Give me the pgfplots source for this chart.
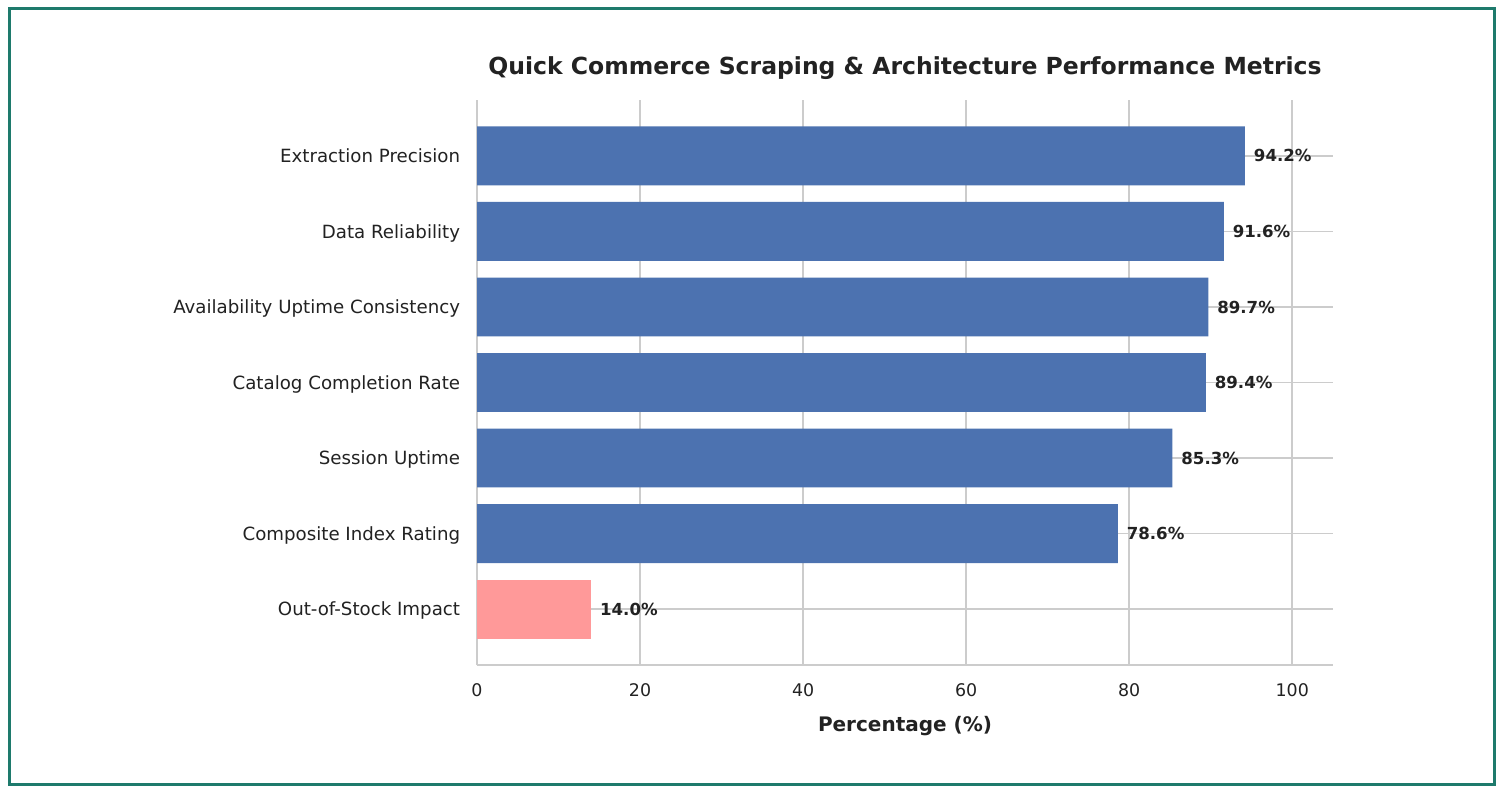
\documentclass[border=0pt]{standalone}
\usepackage{fontspec}
\setmainfont{DejaVu Sans}
\usepackage{pgfplots}
\pgfplotsset{compat=1.18}
\definecolor{barblue}{HTML}{4C72B0}
\definecolor{barpink}{HTML}{FF9999}
\definecolor{gridgray}{HTML}{CCCCCC}
\definecolor{frameteal}{RGB}{30,122,108}
\definecolor{txt}{HTML}{222222}
\begin{document}
\begin{tikzpicture}
\path[use as bounding box, fill=white] (0,0) rectangle (751.5pt,396.5pt);
\draw[frameteal, line width=1.5pt] (4.6pt,4.4pt) rectangle (747.1pt,392pt);
\begin{axis}[
  at={(238.5pt,64pt)}, anchor=south west,
  scale only axis, width=428pt, height=282.5pt,
  xbar, bar width=0.78, bar shift=0pt,
  xmin=0, xmax=105, ymin=-0.74, ymax=6.74,
  xtick={0,20,40,60,80,100},
  ytick={0,1,2,3,4,5,6},
  yticklabels={Out-of-Stock Impact, Composite Index Rating, Session Uptime, Catalog Completion Rate, Availability Uptime Consistency, Data Reliability, Extraction Precision},
  axis x line*=bottom, axis y line*=left,
  axis line style={draw=gridgray, line width=1pt, -},
  grid=major, major grid style={draw=gridgray, line width=0.8pt},
  major tick style={draw=none},
  /pgf/number format/assume math mode=true,
  xticklabel style={font=\fontsize{8.7}{10}\selectfont, text=txt, anchor=north, inner sep=0pt, yshift=-9pt},
  yticklabel style={font=\fontsize{9.1}{11}\selectfont, text=txt, anchor=base east, inner sep=0pt, xshift=-4pt, yshift=-3.3pt},
  xlabel={Percentage (\%)},
  xlabel style={at={(axis description cs:0.5,0)}, anchor=base, yshift=-33pt, font=\fontsize{10}{12}\selectfont\bfseries, text=txt},
  title={Quick Commerce Scraping \& Architecture Performance Metrics},
  title style={at={(axis description cs:0.5,1)}, anchor=base, yshift=6.5pt, font=\fontsize{11.75}{14}\selectfont\bfseries, text=txt},
  point meta=x,
  nodes near coords={\pgfmathprintnumber[fixed,fixed zerofill,precision=1]{\pgfplotspointmeta}\%},
  every node near coord/.append style={font=\fontsize{8.3}{10}\selectfont\bfseries, text=txt, inner sep=0pt, anchor=west, xshift=4.3pt},
]
\addplot[fill=barblue, draw=none] coordinates {(78.6,1) (85.3,2) (89.4,3) (89.7,4) (91.6,5) (94.2,6)};
\addplot[fill=barpink, draw=none] coordinates {(14.0,0)};
\end{axis}
\end{tikzpicture}
\end{document}
